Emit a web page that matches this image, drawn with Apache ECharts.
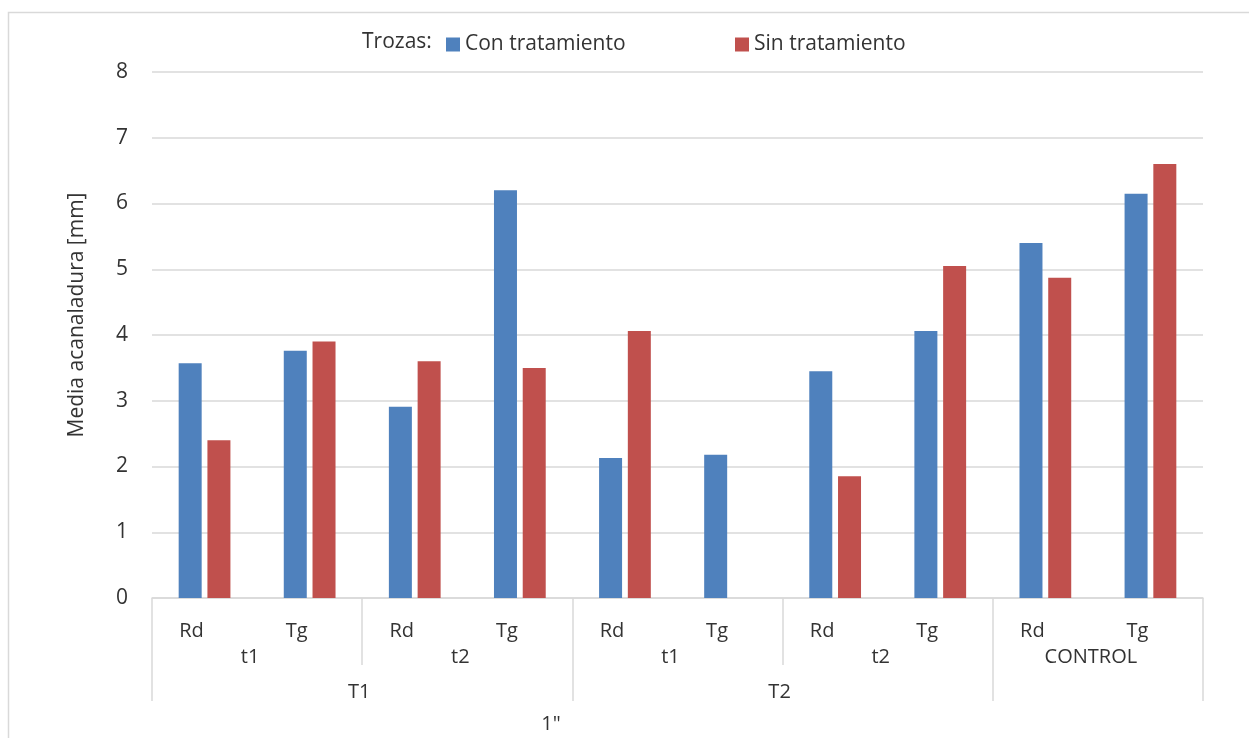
<!DOCTYPE html>
<html>
<head>
<meta charset="utf-8">
<script src="https://cdn.jsdelivr.net/npm/echarts@6/dist/echarts.min.js"></script>
<style>
  html, body { margin: 0; padding: 0; background: #fff; }
  #chart { width: 1249px; height: 738px; }
</style>
</head>
<body>
<div id="chart"></div>
<script>
// Innermost category level (one bar pair per entry)
const categories = ['Rd', 'Tg', 'Rd', 'Tg', 'Rd', 'Tg', 'Rd', 'Tg', 'Rd', 'Tg'];
// Second level: sampling time / control, with the number of categories each spans
const subGroups = [
  { name: 't1', span: 2 }, { name: 't2', span: 2 },
  { name: 't1', span: 2 }, { name: 't2', span: 2 },
  { name: 'CONTROL', span: 2 }
];
// Third level: treatment (control block has no label on this row)
const mainGroups = [
  { name: 'T1', span: 4 }, { name: 'T2', span: 4 }, { name: '', span: 2 }
];
const seriesNames = ['Con tratamiento', 'Sin tratamiento'];
const conTratamiento = [3.57, 3.76, 2.91, 6.20, 2.13, 2.18, 3.45, 4.06, 5.40, 6.15];
const sinTratamiento = [2.40, 3.90, 3.60, 3.50, 4.06, null, 1.85, 5.05, 4.87, 6.60];
const yTicks = [0, 1, 2, 3, 4, 5, 6, 7, 8];

const FONT = '"Open Sans", "Noto Sans", sans-serif';
const TEXT = '#333333';
const LINE = '#d9d9d9';

// Boundaries and centres of each grouping level, in category units
function layout(groups) {
  const edges = [0], centers = [], names = {};
  let pos = 0;
  groups.forEach(g => {
    centers.push(pos + g.span / 2);
    names[pos + g.span / 2] = g.name;
    pos += g.span;
    edges.push(pos);
  });
  return { edges, centers, names };
}
const sub = layout(subGroups);
const main = layout(mainGroups);
const subOnlyEdges = sub.edges.filter(e => main.edges.indexOf(e) < 0);
const n = categories.length;

function legendFor(name, left) {
  return {
    data: [name],
    left: left, top: 29,
    icon: 'rect', itemWidth: 14, itemHeight: 14,
    textStyle: { fontFamily: FONT, fontSize: 21, color: TEXT }
  };
}

const chart = echarts.init(document.getElementById('chart'));
chart.setOption({
  backgroundColor: '#fff',
  animation: false,
  textStyle: { fontFamily: FONT },
  grid: { left: 152, right: 46, top: 72, bottom: 140, containLabel: false },
  legend: [legendFor(seriesNames[0], 441), legendFor(seriesNames[1], 730)],
  xAxis: [
    {
      type: 'category', data: categories, position: 'bottom',
      axisLine: { lineStyle: { color: LINE, width: 1.5 } },
      axisTick: { show: false },
      axisLabel: { fontFamily: FONT, fontSize: 20, color: TEXT, margin: 23, padding: [0, 26, 0, 0] },
      splitLine: { show: false }
    },
    {
      type: 'value', min: 0, max: n, position: 'bottom',
      axisLine: { show: false },
      splitLine: { show: false },
      axisTick: { show: true, length: 67, customValues: subOnlyEdges, lineStyle: { color: LINE, width: 1.5 } },
      axisLabel: {
        customValues: sub.centers, margin: 49,
        fontFamily: FONT, fontSize: 20, color: TEXT, padding: [0, 14, 0, 0],
        formatter: v => sub.names[v] || ''
      }
    },
    {
      type: 'value', min: 0, max: n, position: 'bottom',
      axisLine: { show: false },
      splitLine: { show: false },
      axisTick: { show: true, length: 103, customValues: main.edges, lineStyle: { color: LINE, width: 1.5 } },
      axisLabel: {
        customValues: main.centers, margin: 84,
        fontFamily: FONT, fontSize: 20, color: TEXT, padding: [0, 6, 0, 0],
        formatter: v => main.names[v] || ''
      }
    }
  ],
  yAxis: {
    type: 'value', min: yTicks[0], max: yTicks[yTicks.length - 1], interval: 1,
    axisLine: { show: false },
    axisTick: { show: false },
    axisLabel: { fontFamily: FONT, fontSize: 21, color: TEXT, margin: 24 },
    splitLine: { lineStyle: { color: LINE, width: 1.5 } }
  },
  graphic: [
    {
      type: 'rect', silent: true,
      shape: { x: 8.5, y: 12.5, width: 1260, height: 760 },
      style: { fill: 'none', stroke: '#d9d9d9', lineWidth: 1.5 }
    },
    {
      type: 'text', x: 362, y: 42,
      style: { text: 'Trozas:', fontFamily: FONT, fontSize: 21, fill: TEXT, verticalAlign: 'middle' }
    },
    {
      type: 'text', x: 77, y: 315, rotation: Math.PI / 2,
      style: { text: 'Media acanaladura [mm]', fontFamily: FONT, fontSize: 21, fill: TEXT,
        align: 'center', verticalAlign: 'middle' }
    },
    {
      type: 'text', x: 551, y: 724,
      style: { text: '1"', fontFamily: FONT, fontSize: 20, fill: TEXT,
        align: 'center', verticalAlign: 'middle' }
    }
  ],
  series: [
    {
      name: seriesNames[0], type: 'bar', data: conTratamiento,
      barWidth: 23, barGap: '25%',
      itemStyle: { color: '#4f81bd' }
    },
    {
      name: seriesNames[1], type: 'bar', data: sinTratamiento,
      barWidth: 23, barGap: '25%',
      itemStyle: { color: '#c0504d' }
    }
  ]
});
</script>
</body>
</html>
